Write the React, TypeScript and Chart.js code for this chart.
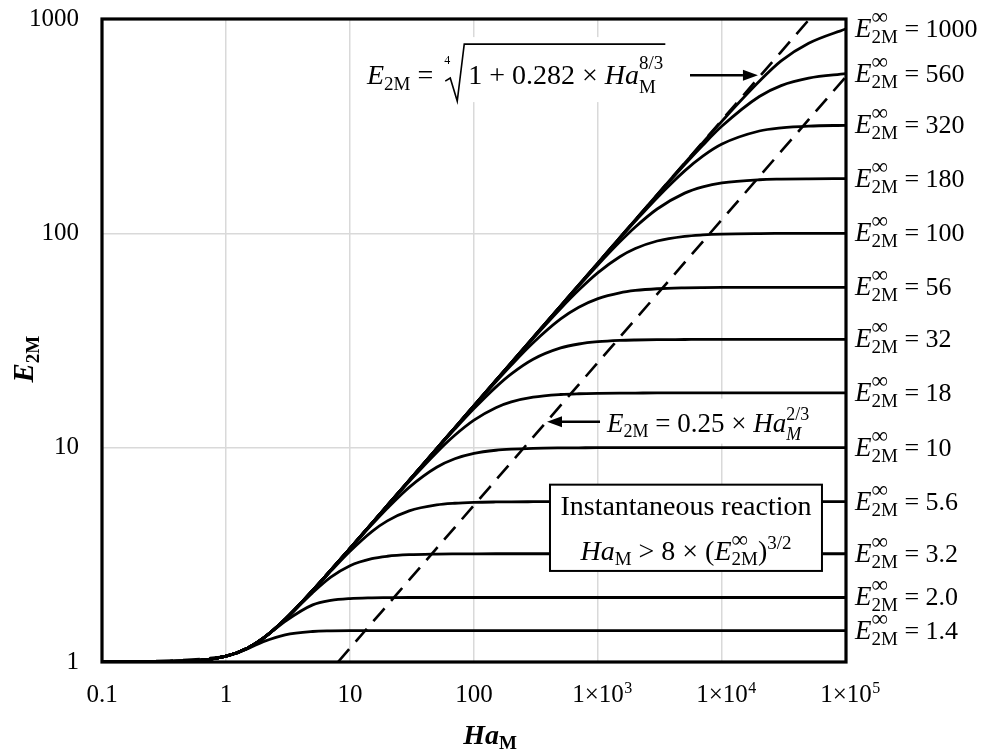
import React, { useEffect, useRef } from "react";
import { Chart, registerables } from "chart.js";

Chart.register(...registerables);

// Hatta number values (x) shared by every curve
const HA = [0.1, 0.5, 1, 1.5, 2, 3, 5, 7, 10, 15, 20, 30, 50, 70, 100, 150, 200, 300, 500, 700, 1000, 1500, 2000, 3000, 5000, 7000, 1e4, 2e4, 3e4, 5e4, 1e5];

// Enhancement factor curves
const E_1000 = [1.0, 1.011, 1.064, 1.163, 1.292, 1.583, 2.156, 2.68, 3.389, 4.435, 5.371, 7.037, 9.891, 12.38, 15.7, 20.57, 24.92, 32.65, 45.9, 57.45, 72.86, 95.47, 115.64, 151.43, 212.4, 264.96, 334.0, 511.9, 637.1, 770, 900];
const E_560 = [1.0, 1.011, 1.064, 1.163, 1.292, 1.583, 2.156, 2.68, 3.389, 4.435, 5.371, 7.037, 9.891, 12.38, 15.7, 20.57, 24.92, 32.65, 45.89, 57.43, 72.82, 95.35, 115.37, 150.6, 209.4, 257.7, 316.6, 435.1, 489.0, 529.9, 556];
const E_320 = [1.0, 1.011, 1.064, 1.163, 1.292, 1.583, 2.156, 2.68, 3.389, 4.435, 5.371, 7.037, 9.891, 12.38, 15.7, 20.57, 24.92, 32.64, 45.86, 57.35, 72.6, 94.69, 113.98, 146.7, 195.6, 229.2, 261.0, 300.2, 310.6, 316.6, 319.1];
const E_180 = [1.0, 1.011, 1.064, 1.163, 1.292, 1.583, 2.156, 2.68, 3.389, 4.435, 5.371, 7.037, 9.891, 12.38, 15.697, 20.56, 24.9, 32.59, 45.67, 56.87, 71.38, 91.28, 107.1, 129.9, 154.0, 164.7, 171.9, 177.85, 179.0, 179.65, 180];
const E_100 = [1.0, 1.011, 1.064, 1.163, 1.292, 1.583, 2.156, 2.68, 3.389, 4.435, 5.371, 7.036, 9.889, 12.374, 15.684, 20.52, 24.81, 32.31, 44.59, 54.34, 65.52, 77.71, 84.9, 92.08, 96.87, 98.34, 99.19, 99.79, 99.9, 100, 100];
const E_56 = [1.0, 1.011, 1.064, 1.163, 1.292, 1.583, 2.156, 2.68, 3.389, 4.435, 5.37, 7.034, 9.878, 12.347, 15.608, 20.285, 24.298, 30.862, 39.85, 45.21, 49.61, 52.8, 54.12, 55.14, 55.68, 55.84, 55.92, 56, 56, 56, 56];
const E_32 = [1.0, 1.011, 1.064, 1.163, 1.292, 1.583, 2.156, 2.68, 3.389, 4.433, 5.367, 7.022, 9.822, 12.198, 15.212, 19.159, 22.088, 25.858, 29.197, 30.455, 31.21, 31.65, 31.8, 31.91, 31.97, 32, 32, 32, 32, 32, 32];
const E_18 = [1.0, 1.011, 1.064, 1.163, 1.292, 1.583, 2.156, 2.679, 3.387, 4.426, 5.347, 6.95, 9.504, 11.428, 13.449, 15.37, 16.347, 17.202, 17.703, 17.85, 17.925, 17.967, 17.98, 18, 18, 18, 18, 18, 18, 18, 18];
const E_10 = [1.0, 1.011, 1.064, 1.163, 1.292, 1.583, 2.155, 2.676, 3.374, 4.374, 5.216, 6.529, 8.1, 8.872, 9.401, 9.726, 9.846, 9.932, 9.976, 9.988, 10, 10, 10, 10, 10, 10, 10, 10, 10, 10, 10];
const E_5_6 = [1.0, 1.011, 1.064, 1.163, 1.292, 1.583, 2.15, 2.654, 3.287, 4.059, 4.555, 5.071, 5.405, 5.503, 5.554, 5.58, 5.589, 5.595, 5.6, 5.6, 5.6, 5.6, 5.6, 5.6, 5.6, 5.6, 5.6, 5.6, 5.6, 5.6, 5.6];
const E_3_2 = [1.0, 1.011, 1.064, 1.163, 1.292, 1.579, 2.105, 2.486, 2.815, 3.036, 3.114, 3.166, 3.189, 3.195, 3.198, 3.2, 3.2, 3.2, 3.2, 3.2, 3.2, 3.2, 3.2, 3.2, 3.2, 3.2, 3.2, 3.2, 3.2, 3.2, 3.2];
const E_2_0 = [1.0, 1.011, 1.064, 1.163, 1.29, 1.549, 1.847, 1.938, 1.977, 1.992, 1.996, 2.0, 2.0, 2.0, 2.0, 2.0, 2.0, 2.0, 2.0, 2.0, 2.0, 2.0, 2.0, 2.0, 2.0, 2.0, 2.0, 2.0, 2.0, 2.0, 2.0];
const E_1_4 = [1.0, 1.011, 1.064, 1.155, 1.245, 1.34, 1.388, 1.397, 1.4, 1.4, 1.4, 1.4, 1.4, 1.4, 1.4, 1.4, 1.4, 1.4, 1.4, 1.4, 1.4, 1.4, 1.4, 1.4, 1.4, 1.4, 1.4, 1.4, 1.4, 1.4, 1.4];

const CURVES = [E_1000, E_560, E_320, E_180, E_100, E_56, E_32, E_18, E_10, E_5_6, E_3_2, E_2_0, E_1_4];
const CURVE_LABELS = ["1000", "560", "320", "180", "100", "56", "32", "18", "10", "5.6", "3.2", "2.0", "1.4"];

// Dashed asymptotes
const UPPER_HA = [0.1, 1, 2, 3, 5, 10, 20, 50, 100, 1000, 1e4, 50800];
const UPPER_E = [1.0, 1.064, 1.292, 1.583, 2.156, 3.389, 5.371, 9.891, 15.7, 72.87, 338.2, 1000];
const LOWER_HA = [8, 1e5];
const LOWER_E = [1, 538.6];

const X_TICKS = [0.1, 1, 10, 100, 1000, 1e4, 1e5];
const X_TICK_LABELS = ["0.1", "1", "10", "100", "1×10^3", "1×10^4", "1×10^5"];
const Y_TICKS = [1, 10, 100, 1000];
const Y_TICK_LABELS = ["1", "10", "100", "1000"];

const SERIF = '"Liberation Serif", "Times New Roman", Times, serif';
const font = (size: number, style = "") => `${style} ${size}px ${SERIF}`.trim();

interface Run { t: string; size: number; style?: string; dy?: number }
interface Stack { sup: Run; sub: Run }
type Part = Run | Stack;

function runWidth(ctx: CanvasRenderingContext2D, r: Run) {
  ctx.font = font(r.size, r.style);
  return ctx.measureText(r.t).width;
}
function partsWidth(ctx: CanvasRenderingContext2D, parts: Part[]) {
  let w = 0;
  for (const p of parts) {
    if ("sup" in p) w += Math.max(runWidth(ctx, p.sup), runWidth(ctx, p.sub));
    else w += runWidth(ctx, p);
  }
  return w;
}
function drawRun(ctx: CanvasRenderingContext2D, x: number, y: number, r: Run) {
  ctx.font = font(r.size, r.style);
  ctx.fillText(r.t, x, y + (r.dy || 0));
  return ctx.measureText(r.t).width;
}
function drawParts(ctx: CanvasRenderingContext2D, x: number, y: number, parts: Part[]) {
  let cx = x;
  for (const p of parts) {
    if ("sup" in p) {
      const w1 = drawRun(ctx, cx, y, p.sup);
      const w2 = drawRun(ctx, cx, y, p.sub);
      cx += Math.max(w1, w2);
    } else {
      cx += drawRun(ctx, cx, y, p);
    }
  }
  return cx;
}
function arrow(ctx: CanvasRenderingContext2D, x1: number, y1: number, x2: number, y2: number) {
  const ang = Math.atan2(y2 - y1, x2 - x1);
  const hl = 15, hw = 5.5;
  const c = Math.cos(ang), s = Math.sin(ang);
  ctx.lineWidth = 2.5;
  ctx.beginPath();
  ctx.moveTo(x1, y1);
  ctx.lineTo(x2 - hl * c, y2 - hl * s);
  ctx.stroke();
  ctx.beginPath();
  ctx.moveTo(x2, y2);
  ctx.lineTo(x2 - hl * c + hw * s, y2 - hl * s - hw * c);
  ctx.lineTo(x2 - hl * c - hw * s, y2 - hl * s + hw * c);
  ctx.closePath();
  ctx.fill();
}

const decorPlugin = {
  id: "decor",
  afterDraw(chart: any) {
    const { ctx, chartArea: a, scales } = chart;
    const xs = scales.x, ys = scales.y;
    const X = (v: number) => xs.getPixelForValue(v);
    const Y = (v: number) => ys.getPixelForValue(v);
    ctx.save();
    ctx.strokeStyle = "#000";
    ctx.fillStyle = "#000";
    ctx.textAlign = "left";
    ctx.textBaseline = "alphabetic";

    // plot frame
    ctx.lineWidth = 3.2;
    ctx.strokeRect(a.left, a.top, a.right - a.left, a.bottom - a.top);

    // x tick labels
    xs.ticks.forEach((t: any, i: number) => {
      const [main, sup] = X_TICK_LABELS[i].split("^");
      ctx.font = font(25);
      const w = ctx.measureText(main).width;
      const px = X(t.value);
      ctx.fillText(main, px - w / 2, a.bottom + 40);
      if (sup) {
        ctx.font = font(16);
        ctx.fillText(sup, px + w / 2 + 0.5, a.bottom + 31);
      }
    });

    // annotation 1: upper asymptote formula
    {
      const x0 = X(13.7), y0 = Y(497);
      const partsA: Part[] = [
        { t: "E", size: 28, style: "italic" },
        { t: "2M", size: 19, dy: 6 },
        { t: " =", size: 28 },
      ];
      const partsB: Part[] = [
        { t: "1 + 0.282 × ", size: 28 },
        { t: "Ha", size: 28, style: "italic" },
        { sup: { t: "8/3", size: 19, dy: -15 }, sub: { t: "M", size: 19, dy: 9 } },
      ];
      const wA = partsWidth(ctx, partsA);
      const x1 = x0 + wA;
      const xB = x1 + 35;
      const xEnd = xB + partsWidth(ctx, partsB);
      ctx.fillStyle = "#fff";
      ctx.fillRect(x0 - 9, y0 - 47, xEnd + 6 - (x0 - 9), 65);
      ctx.fillStyle = "#000";
      drawParts(ctx, x0, y0, partsA);
      drawParts(ctx, xB, y0, partsB);
      ctx.font = font(12);
      ctx.fillText("4", x1 + 11, y0 - 20);
      ctx.lineWidth = 1.6;
      ctx.beginPath();
      ctx.moveTo(x1 + 12, y0 - 3);
      ctx.lineTo(x1 + 17, y0 - 6);
      ctx.lineTo(x1 + 24, y0 + 17);
      ctx.lineTo(x1 + 31, y0 - 40);
      ctx.lineTo(xEnd + 2, y0 - 40);
      ctx.stroke();
      arrow(ctx, X(5520), Y(547), X(19500), Y(547));
    }

    // annotation 2: lower asymptote formula
    {
      const x0 = X(1183), y0 = Y(11.88);
      const parts: Part[] = [
        { t: "E", size: 27, style: "italic" },
        { t: "2M", size: 18, dy: 5 },
        { t: " = 0.25 × ", size: 27 },
        { t: "Ha", size: 27, style: "italic" },
        { sup: { t: "2/3", size: 18, dy: -12 }, sub: { t: "M", size: 18, style: "italic", dy: 8 } },
      ];
      const w = partsWidth(ctx, parts);
      ctx.fillStyle = "#fff";
      ctx.fillRect(x0 - 4, y0 - 33, w + 8, 45);
      ctx.fillStyle = "#000";
      drawParts(ctx, x0, y0, parts);
      arrow(ctx, X(1038), Y(13.2), X(388), Y(13.2));
    }

    // box: instantaneous reaction
    {
      const bx1 = X(410), bx2 = X(64000), by1 = Y(6.72), by2 = Y(2.66);
      ctx.fillStyle = "#fff";
      ctx.fillRect(bx1, by1, bx2 - bx1, by2 - by1);
      ctx.lineWidth = 2;
      ctx.strokeRect(bx1, by1, bx2 - bx1, by2 - by1);
      ctx.fillStyle = "#000";
      const cx = (bx1 + bx2) / 2;
      const l1: Part[] = [{ t: "Instantaneous reaction", size: 28 }];
      drawParts(ctx, cx - partsWidth(ctx, l1) / 2, by1 + 30, l1);
      const l2: Part[] = [
        { t: "Ha", size: 28, style: "italic" },
        { t: "M", size: 19, dy: 5 },
        { t: " > 8 × (", size: 28 },
        { t: "E", size: 28, style: "italic" },
        { sup: { t: "∞", size: 23, dy: -13 }, sub: { t: "2M", size: 19, dy: 5 } },
        { t: ")", size: 28 },
        { t: "3/2", size: 19, dy: -11 },
      ];
      drawParts(ctx, cx - partsWidth(ctx, l2) / 2, by1 + 75, l2);
    }

    // right-hand curve labels
    CURVES.forEach((c, i) => {
      const y = Y(c[c.length - 1]) + 8;
      drawParts(ctx, a.right + 9, y, [
        { t: "E", size: 27, style: "italic" },
        { sup: { t: "∞", size: 23, dy: -13 }, sub: { t: "2M", size: 19, dy: 6 } },
        { t: " = " + CURVE_LABELS[i], size: 26 },
      ]);
    });

    // axis titles
    {
      const parts: Part[] = [
        { t: "Ha", size: 28, style: "bold italic" },
        { t: "M", size: 19, style: "bold", dy: 5 },
      ];
      const w = partsWidth(ctx, parts);
      drawParts(ctx, (a.left + a.right) / 2 + 16 - w / 2, a.bottom + 82, parts);
    }
    {
      ctx.save();
      ctx.translate(33, (a.top + a.bottom) / 2 + 42);
      ctx.rotate(-Math.PI / 2);
      drawParts(ctx, 0, 0, [
        { t: "E", size: 29, style: "bold italic" },
        { t: "2M", size: 19, style: "bold", dy: 6 },
      ]);
      ctx.restore();
    }
    ctx.restore();
  },
};

export default function App() {
  const ref = useRef<HTMLCanvasElement | null>(null);
  useEffect(() => {
    if (!ref.current) return;
    const curveSets = CURVES.map((c, i) => ({
      label: "E∞ = " + CURVE_LABELS[i],
      data: HA.map((x, j) => ({ x, y: c[j] })),
      borderColor: "#000",
      borderWidth: 2.8,
      pointRadius: 0,
      fill: false,
      cubicInterpolationMode: "monotone" as const,
    }));
    const dashed = (xsArr: number[], ysArr: number[], label: string) => ({
      label,
      data: xsArr.map((x, j) => ({ x, y: ysArr[j] })),
      borderColor: "#000",
      borderWidth: 2.6,
      borderDash: [17, 10],
      pointRadius: 0,
      fill: false,
      cubicInterpolationMode: "monotone" as const,
    });
    const chart = new Chart(ref.current, {
      type: "line",
      data: {
        datasets: [
          ...curveSets,
          dashed(UPPER_HA, UPPER_E, "upper"),
          dashed(LOWER_HA, LOWER_E, "lower"),
        ],
      },
      options: {
        animation: false,
        responsive: false,
        devicePixelRatio: 1,
        layout: { padding: { top: 19, right: 137, bottom: 0, left: 0 } },
        plugins: { legend: { display: false }, tooltip: { enabled: false } },
        scales: {
          x: {
            type: "logarithmic",
            min: 0.1,
            max: 1e5,
            position: "bottom",
            grid: { color: "#d9d9d9", lineWidth: 1.5, drawTicks: false },
            border: { display: false },
            ticks: { display: false },
            afterBuildTicks: (s: any) => {
              s.ticks = X_TICKS.map((v) => ({ value: v }));
            },
            afterFit: (s: any) => {
              s.height = 91;
              s.paddingLeft = 0;
              s.paddingRight = 0;
            },
          },
          y: {
            type: "logarithmic",
            min: 1,
            max: 1000,
            grid: { color: "#d9d9d9", lineWidth: 1.5, drawTicks: false },
            border: { display: false },
            ticks: {
              color: "#000",
              padding: 23,
              font: { family: '"Liberation Serif", "Times New Roman", serif', size: 25 },
              callback: (_v: any, i: number) => Y_TICK_LABELS[i],
            },
            afterBuildTicks: (s: any) => {
              s.ticks = Y_TICKS.map((v) => ({ value: v }));
            },
            afterFit: (s: any) => {
              s.width = 102;
              s.paddingTop = 0;
              s.paddingBottom = 0;
            },
          },
        },
      },
      plugins: [decorPlugin],
    } as any);
    return () => chart.destroy();
  }, []);
  return (
    <div style={{ position: "absolute", left: 0, top: 0, width: 983, height: 753, background: "#fff" }}>
      <canvas ref={ref} width={983} height={753} style={{ width: 983, height: 753, display: "block" }} />
    </div>
  );
}
